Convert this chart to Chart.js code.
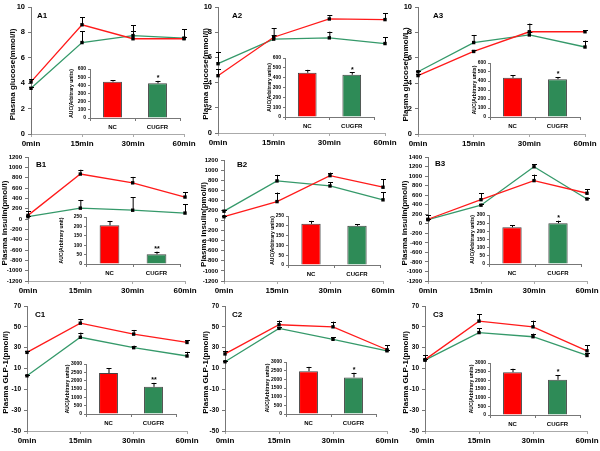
<!DOCTYPE html>
<html><head><meta charset="utf-8">
<script src="https://cdn.jsdelivr.net/npm/chart.js@4/dist/chart.umd.min.js"></script>
<style>
html,body{margin:0;padding:0;background:#fff;}
#wrap{position:relative;width:600px;height:451px;overflow:hidden;background:#fff;}
canvas{position:absolute;}
</style></head><body><div id="wrap"></div>
<script>
// ---------- data ----------
const times = ['0min','15min','30min','60min'];
const groups = ['NC','CUGFR'];

const glucoseTicks = [0,2,4,6,8,10];
const insulinTicks = [-1200,-1000,-800,-600,-400,-200,0,200,400,600,800,1000,1200];
const insulinTicksB3 = [-1200,-1000,-800,-600,-400,-200,0,200,400,600,800,1000,1200,1400];
const glpTicks = [-50,-30,-10,10,30,50,70];
const aucTicksA = [0,100,200,300,400,500,600];
const aucTicksB = [0,50,100,150,200,250];
const aucTicksB3 = [0,50,100,150,200,250,300];
const aucTicksC = [0,500,1000,1500,2000,2500,3000];

// A1
const a1NC = [4.1, 8.6, 7.5, 7.5];      const a1NCErr = [0.2, 0.6, 0.6, 0.15];
const a1CU = [3.6, 7.2, 7.75, 7.55];    const a1CUErr = [0.1, 0.9, 0.8, 0.7];
const a1AUC = [445, 425];               const a1AUCErr = [20, 30];   const a1Stars = ['', '*'];
// A2
const a2NC = [4.55, 7.6, 9.05, 9.0];    const a2NCErr = [0.5, 0.7, 0.3, 0.5];
const a2CU = [5.5, 7.45, 7.55, 7.1];    const a2CUErr = [0.9, 0.3, 0.5, 0.5];
const a2AUC = [450, 430];               const a2AUCErr = [30, 25];   const a2Stars = ['', '*'];
// A3
const a3NC = [4.6, 6.5, 8.05, 8.05];    const a3NCErr = [0.15, 0.1, 0.65, 0.1];
const a3CU = [4.9, 7.2, 7.8, 6.85];     const a3CUErr = [0.1, 0.6, 0.2, 0.5];
const a3AUC = [435, 420];               const a3AUCErr = [30, 25];   const a3Stars = ['', '*'];
// B1
const b1NC = [70, 870, 700, 425];       const b1NCErr = [80, 85, 115, 90];
const b1CU = [45, 210, 170, 115];       const b1CUErr = [20, 160, 250, 175];
const b1AUC = [206, 52];                const b1AUCErr = [23, 14];   const b1Stars = ['', '**'];
// B2
const b2NC = [75, 375, 890, 660];       const b2NCErr = [20, 180, 60, 160];
const b2CU = [185, 785, 685, 410];      const b2CUErr = [20, 120, 75, 150];
const b2AUC = [210, 200];               const b2AUCErr = [15, 8];    const b2Stars = ['', ''];
// B3
const b3NC = [95, 505, 905, 640];       const b3NCErr = [90, 140, 125, 85];
const b3CU = [85, 390, 1195, 520];      const b3CUErr = [20, 30, 55, 20];
const b3AUC = [225, 250];               const b3AUCErr = [12, 15];   const b3Stars = ['', '*'];
// C1
const c1NC = [25.5, 53.5, 43, 35];      const c1NCErr = [1, 4, 4, 2];
const c1CU = [3, 40, 30, 22];           const c1CUErr = [1, 4.5, 2, 4];
const c1AUC = [2460, 1630];             const c1AUCErr = [300, 240]; const c1Stars = ['', '**'];
// C2
const c2NC = [24, 52, 50, 28];          const c2NCErr = [3, 4, 5, 4.5];
const c2CU = [16.5, 48.5, 38, 27];      const c2CUErr = [1, 1, 2, 1];
const c2AUC = [2470, 2110];             const c2AUCErr = [250, 270]; const c2Stars = ['', '*'];
// C3
const c3NC = [18.5, 55.5, 50, 27];      const c3NCErr = [4.5, 6.5, 6, 5.5];
const c3CU = [18, 44.5, 40.5, 22.5];    const c3CUErr = [1, 4, 3, 2.5];
const c3AUC = [2470, 2030];             const c3AUCErr = [200, 280]; const c3Stars = ['', '*'];

// ---------- style ----------
const RED = '#ff1a1a', GREEN = '#35996a', BAR_RED = '#ff0000', BAR_GREEN = '#2e8b57';
const FF = "'Liberation Sans', Arial, sans-serif";
const wrap = document.getElementById('wrap');
const plain = v => String(v);

const errPlugin = {
  id: 'errbars',
  afterDatasetsDraw(chart, args, opts) {
    const ctx = chart.ctx, ys = chart.scales.y;
    chart.data.datasets.forEach((ds, i) => {
      if (!ds.errors) return;
      const meta = chart.getDatasetMeta(i);
      meta.data.forEach((el, j) => {
        const v = ds.data[j], e = ds.errors[j];
        const x = el.x, y0 = ys.getPixelForValue(v), y1 = ys.getPixelForValue(v + e);
        ctx.save();
        ctx.strokeStyle = '#000'; ctx.lineWidth = 1;
        if (e) {
          ctx.beginPath();
          ctx.moveTo(x + 0.5, y0); ctx.lineTo(x + 0.5, y1);
          ctx.moveTo(x - opts.cap, Math.round(y1) + 0.5); ctx.lineTo(x + opts.cap + 1, Math.round(y1) + 0.5);
          ctx.stroke();
        }
        if (ds.stars && ds.stars[j]) {
          ctx.fillStyle = '#000';
          ctx.font = 'bold 7px ' + FF;
          ctx.textAlign = 'center'; ctx.textBaseline = 'bottom';
          ctx.fillText(ds.stars[j], x + 0.5, y1 + 1);
        }
        ctx.restore();
      });
    });
  }
};

const textPlugin = {
  id: 'texts',
  afterDraw(chart, args, opts) {
    const ctx = chart.ctx;
    (opts.items || []).forEach(it => {
      ctx.save();
      ctx.font = it.font; ctx.fillStyle = '#000';
      ctx.textAlign = it.align || 'center'; ctx.textBaseline = 'middle';
      ctx.translate(it.x, it.y);
      if (it.rot) ctx.rotate(-Math.PI / 2);
      ctx.fillText(it.text, 0, 0);
      ctx.restore();
    });
  }
};

function mkMain(s) {
  const cv = document.createElement('canvas');
  cv.width = 200; cv.height = 150;
  cv.style.left = s.px + 'px'; cv.style.top = s.py + 'px';
  wrap.appendChild(cv);
  const tickFont = {family: FF, size: s.fs, weight: 'bold', lineHeight: 1};
  new Chart(cv, {
    type: 'line',
    data: {labels: times, datasets: [
      {data: s.nc, errors: s.ncErr, borderColor: RED, borderWidth: 1.3, pointStyle: 'rect', pointRadius: 2.4, pointBackgroundColor: '#000', pointBorderColor: '#000', pointBorderWidth: 0, tension: 0},
      {data: s.cu, errors: s.cuErr, borderColor: GREEN, borderWidth: 1.3, pointStyle: 'rect', pointRadius: 2.4, pointBackgroundColor: '#000', pointBorderColor: '#000', pointBorderWidth: 0, tension: 0}
    ]},
    options: {
      responsive: false, animation: false, events: [],
      layout: {padding: {left: 0, top: s.T - s.py, right: s.px + 200 - s.R, bottom: 0}},
      plugins: {
        legend: {display: false}, tooltip: {enabled: false},
        errbars: {cap: 2},
        texts: {items: [
          {text: s.label, x: s.labelX - s.px, y: s.labelY - s.py, align: 'left', font: 'bold 8px ' + FF},
          {text: s.title, x: s.titleX - s.px, y: (s.T + s.B) / 2 + 4 - s.py, rot: true, font: 'bold 8px ' + FF}
        ]}
      },
      scales: {
        x: {
          offset: false,
          grid: {display: true, drawOnChartArea: false, tickLength: 3, color: '#aaa'},
          border: {display: true, color: '#aaa'},
          ticks: {font: {family: FF, size: 8, weight: 'bold'}, color: '#000', padding: 2, maxRotation: 0, autoSkip: false},
          afterFit(sc) { sc.height = s.py + 150 - s.B; sc.paddingLeft = 0; sc.paddingRight = 0; }
        },
        y: {
          min: s.ticks[0], max: s.ticks[s.ticks.length - 1],
          afterBuildTicks(sc) { sc.ticks = s.ticks.map(v => ({value: v})); },
          ticks: {font: tickFont, color: '#000', padding: 3, autoSkip: false, callback: plain},
          grid: {display: true, drawOnChartArea: false, tickLength: 3, color: '#777'},
          border: {display: true, color: '#777'},
          afterFit(sc) { sc.width = s.L - s.px; sc.paddingTop = 0; sc.paddingBottom = 0; }
        }
      }
    },
    plugins: [errPlugin, textPlugin]
  });
}

function mkInset(s) {
  const left = s.titleX - 5, top = s.T - 6, right = s.R + 4, bottom = s.B + 14;
  const cv = document.createElement('canvas');
  cv.width = right - left; cv.height = bottom - top;
  cv.style.left = left + 'px'; cv.style.top = top + 'px';
  wrap.appendChild(cv);
  const tickFont = {family: FF, size: 5, weight: 'bold', lineHeight: 1};
  new Chart(cv, {
    type: 'bar',
    data: {labels: groups, datasets: [{
      data: s.vals, errors: s.errs, stars: s.stars,
      backgroundColor: [BAR_RED, BAR_GREEN], borderColor: '#444', borderWidth: 1,
      barPercentage: 0.42, categoryPercentage: 1
    }]},
    options: {
      responsive: false, animation: false, events: [],
      layout: {padding: {left: 0, top: s.T - top, right: right - s.R, bottom: 0}},
      plugins: {
        legend: {display: false}, tooltip: {enabled: false},
        errbars: {cap: 2},
        texts: {items: [
          {text: s.title, x: s.titleX - left, y: (s.T + s.B) / 2 - top, rot: true, font: 'bold 5px ' + FF}
        ]}
      },
      scales: {
        x: {
          grid: {display: true, drawOnChartArea: false, tickLength: 3, color: '#777', offset: true},
          border: {display: true, color: '#777'},
          ticks: {font: {family: FF, size: 6, weight: 'bold'}, color: '#000', padding: 3, maxRotation: 0, autoSkip: false},
          afterFit(sc) { sc.height = bottom - s.B; sc.paddingLeft = 0; sc.paddingRight = 0; }
        },
        y: {
          min: s.ticks[0], max: s.ticks[s.ticks.length - 1],
          afterBuildTicks(sc) { sc.ticks = s.ticks.map(v => ({value: v})); },
          ticks: {font: tickFont, color: '#000', padding: 2, autoSkip: false, callback: plain},
          grid: {display: true, drawOnChartArea: false, tickLength: 2, color: '#777'},
          border: {display: true, color: '#777'},
          afterFit(sc) { sc.width = s.L - left; sc.paddingTop = 0; sc.paddingBottom = 0; }
        }
      }
    },
    plugins: [errPlugin, textPlugin]
  });
}

const GT = 'Plasma glucose(mmol/l)', IT = 'Plasma insulin(pmol/l)', PT = 'Plasma GLP-1(pmol/l)';
const AUCT = 'AUC(Arbitrary units)';

// row A
mkMain({px: 0,   py: 0, L: 31,  R: 184, T: 7, B: 134, fs: 7.5, ticks: glucoseTicks, nc: a1NC, ncErr: a1NCErr, cu: a1CU, cuErr: a1CUErr, label: 'A1', labelX: 37,  labelY: 16, title: GT, titleX: 13});
mkMain({px: 200, py: 0, L: 218, R: 385, T: 7, B: 133, fs: 7.5, ticks: glucoseTicks, nc: a2NC, ncErr: a2NCErr, cu: a2CU, cuErr: a2CUErr, label: 'A2', labelX: 232, labelY: 16, title: GT, titleX: 206});
mkMain({px: 400, py: 0, L: 418, R: 585, T: 7, B: 134, fs: 7.5, ticks: glucoseTicks, nc: a3NC, ncErr: a3NCErr, cu: a3CU, cuErr: a3CUErr, label: 'A3', labelX: 433, labelY: 16, title: 'Plasma glucose(mmol/L)', titleX: 406});
// row B
mkMain({px: 0,   py: 150, L: 28,  R: 185, T: 157, B: 281, fs: 6, ticks: insulinTicks,   nc: b1NC, ncErr: b1NCErr, cu: b1CU, cuErr: b1CUErr, label: 'B1', labelX: 36,  labelY: 165, title: IT, titleX: 5});
mkMain({px: 200, py: 150, L: 224, R: 383, T: 160, B: 281, fs: 6, ticks: insulinTicks,   nc: b2NC, ncErr: b2NCErr, cu: b2CU, cuErr: b2CUErr, label: 'B2', labelX: 237, labelY: 165, title: IT, titleX: 204});
mkMain({px: 400, py: 150, L: 428, R: 587, T: 157, B: 281, fs: 6, ticks: insulinTicksB3, nc: b3NC, ncErr: b3NCErr, cu: b3CU, cuErr: b3CUErr, label: 'B3', labelX: 435, labelY: 164, title: IT, titleX: 405});
// row C
mkMain({px: 0,   py: 300, L: 27,  R: 187, T: 306, B: 431, fs: 6.5, ticks: glpTicks, nc: c1NC, ncErr: c1NCErr, cu: c1CU, cuErr: c1CUErr, label: 'C1', labelX: 35,  labelY: 315, title: PT, titleX: 6});
mkMain({px: 200, py: 300, L: 225, R: 387, T: 306, B: 431, fs: 6.5, ticks: glpTicks, nc: c2NC, ncErr: c2NCErr, cu: c2CU, cuErr: c2CUErr, label: 'C2', labelX: 232, labelY: 315, title: PT, titleX: 206});
mkMain({px: 400, py: 300, L: 425, R: 587, T: 306, B: 431, fs: 6.5, ticks: glpTicks, nc: c3NC, ncErr: c3NCErr, cu: c3CU, cuErr: c3CUErr, label: 'C3', labelX: 433, labelY: 315, title: PT, titleX: 406});

// insets
mkInset({L: 90,  R: 180, T: 69,  B: 118, ticks: aucTicksA,  vals: a1AUC, errs: a1AUCErr, stars: a1Stars, title: AUCT, titleX: 72});
mkInset({L: 285, R: 374, T: 58,  B: 117, ticks: aucTicksA,  vals: a2AUC, errs: a2AUCErr, stars: a2Stars, title: AUCT, titleX: 270});
mkInset({L: 490, R: 580, T: 63,  B: 117, ticks: aucTicksA,  vals: a3AUC, errs: a3AUCErr, stars: a3Stars, title: AUCT, titleX: 475});
mkInset({L: 86,  R: 180, T: 217, B: 264, ticks: aucTicksB,  vals: b1AUC, errs: b1AUCErr, stars: b1Stars, title: 'AUC(Arbitrary unit)', titleX: 62});
mkInset({L: 288, R: 380, T: 216, B: 265, ticks: aucTicksB,  vals: b2AUC, errs: b2AUCErr, stars: b2Stars, title: AUCT, titleX: 273});
mkInset({L: 489, R: 581, T: 215, B: 264, ticks: aucTicksB3, vals: b3AUC, errs: b3AUCErr, stars: b3Stars, title: AUCT, titleX: 473});
mkInset({L: 86,  R: 176, T: 364, B: 414, ticks: aucTicksC,  vals: c1AUC, errs: c1AUCErr, stars: c1Stars, title: AUCT, titleX: 68});
mkInset({L: 286, R: 376, T: 362, B: 414, ticks: aucTicksC,  vals: c2AUC, errs: c2AUCErr, stars: c2Stars, title: AUCT, titleX: 268});
mkInset({L: 490, R: 580, T: 363, B: 415, ticks: aucTicksC,  vals: c3AUC, errs: c3AUCErr, stars: c3Stars, title: AUCT, titleX: 472});
</script>
</body></html>
